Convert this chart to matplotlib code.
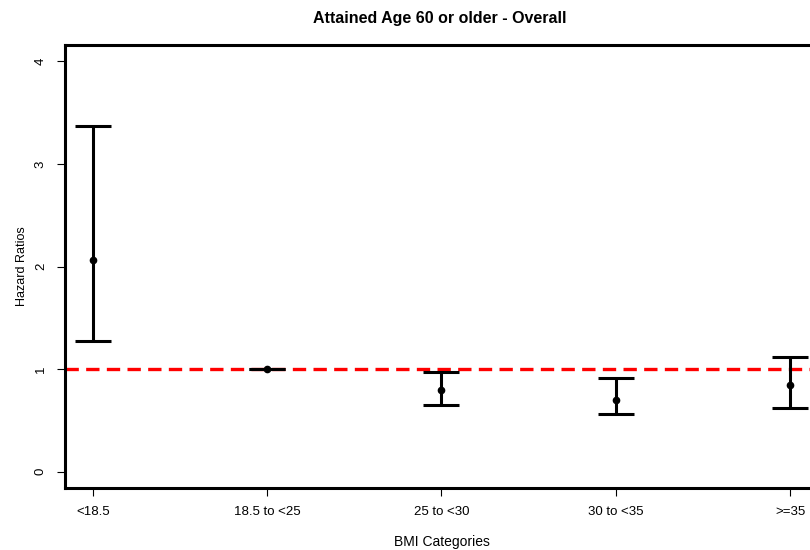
import numpy as np
import matplotlib.pyplot as plt

plt.rcParams['font.family'] = ['Liberation Sans', 'DejaVu Sans']

categories = ['<18.5', '18.5 to <25', '25 to <30', '30 to <35', '>=35']
hr = [2.06, 1.00, 0.80, 0.70, 0.84]
lower = [1.27, 1.00, 0.65, 0.56, 0.62]
upper = [3.37, 1.00, 0.97, 0.91, 1.12]

x = np.arange(1, len(categories) + 1)
hr = np.array(hr)
err = [hr - np.array(lower), np.array(upper) - hr]

fig = plt.figure(figsize=(8.1, 5.5), dpi=100)
# axes run past the right edge, as in the cropped original
ax = fig.add_axes([65 / 810, 1 - 488 / 550, 753 / 810, 443 / 550])

ax.axhline(1, color='#ff0000', lw=2.4, dashes=(4, 2.2), zorder=1)
ax.errorbar(x, hr, yerr=err, fmt='o', color='black', ms=4.5, lw=2.2,
            capsize=13, capthick=2.2, zorder=3)

ax.set_xlim(0.84, 5.16)
ax.set_ylim(-0.16, 4.16)
ax.set_xticks(x)
ax.set_xticklabels(categories, fontsize=9.5)
ax.set_yticks([0, 1, 2, 3, 4])
ax.set_yticklabels(['0', '1', '2', '3', '4'], fontsize=9.5, rotation=90, va='center')
ax.tick_params(direction='out', length=6, width=0.8, pad=7)
for s in ax.spines.values():
    s.set_linewidth(2.2)

ax.set_xlabel('BMI Categories', fontsize=10, labelpad=12)
ax.set_ylabel('Hazard Ratios', fontsize=9, labelpad=5)
fig.text(440 / 810, 1 - 18 / 550, 'Attained Age 60 or older - Overall',
         ha='center', va='center', fontsize=11.5, fontweight='bold')

fig.savefig('out.png', dpi=100)
